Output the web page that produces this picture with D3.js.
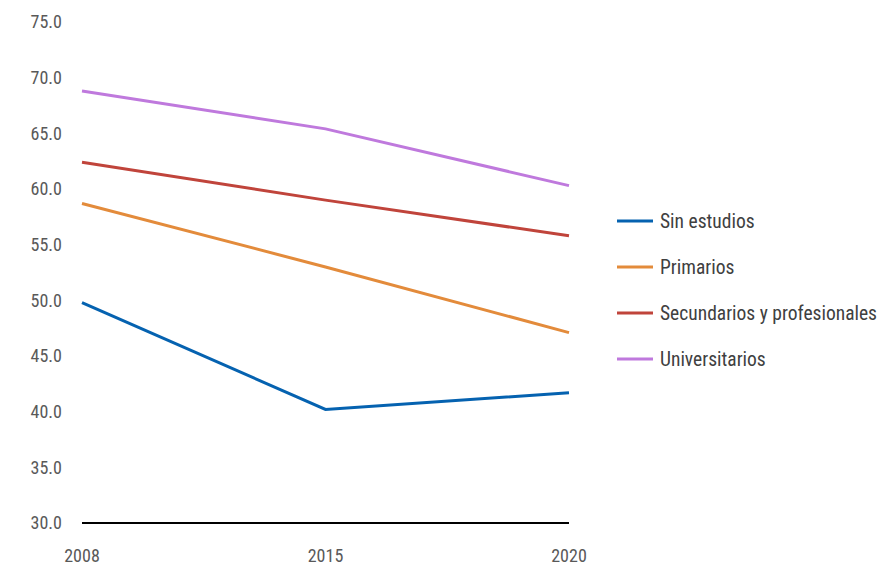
<!DOCTYPE html>
<html><head><meta charset="utf-8">
<script src="https://cdn.jsdelivr.net/npm/d3@7"></script>
<style>
body{margin:0;background:#fff;}
text{font-family:"Liberation Sans Narrow","Roboto Condensed","DejaVu Sans Condensed",sans-serif;}
</style></head><body>
<svg id="c" width="887" height="566"></svg>
<script>
const years = ["2008","2015","2020"];
const seriesNames = ["Sin estudios","Primarios","Secundarios y profesionales","Universitarios"];
const sinEstudios = [49.8, 40.2, 41.7];
const primarios = [58.7, 53.0, 47.1];
const secundarios = [62.4, 59.0, 55.8];
const universitarios = [68.8, 65.4, 60.3];
const yTicks = [30,35,40,45,50,55,60,65,70,75];
const colors = ["#0562b0","#e38b3b","#c0443b","#bf79dd"];

const series = [sinEstudios, primarios, secundarios, universitarios];
const svg = d3.select("#c");
const x = d3.scalePoint().domain(years).range([82, 569]);
const y = d3.scaleLinear().domain([30,75]).range([523, 22]);

svg.append("g").selectAll("text").data(yTicks).join("text")
  .attr("x", 62).attr("y", d=>y(d)).attr("dy","0.35em")
  .attr("text-anchor","end").attr("fill","#595959").attr("font-size",18)
  .text(d=>d.toFixed(1));
svg.append("g").selectAll("text").data(years).join("text")
  .attr("x", d=>x(d)).attr("y", 556).attr("dy","0.35em")
  .attr("text-anchor","middle").attr("fill","#595959").attr("font-size",18)
  .text(d=>d);
svg.append("line").attr("x1",x(years[0])).attr("x2",x(years[2]))
  .attr("y1",y(30)).attr("y2",y(30)).attr("stroke","#000").attr("stroke-width",2);

const line = d3.line().x((d,i)=>x(years[i])).y(d=>y(d));
series.forEach((s,i)=>{
  svg.append("path").datum(s).attr("d",line).attr("fill","none")
    .attr("stroke",colors[i]).attr("stroke-width",3);
});

const lg = svg.append("g").selectAll("g").data(seriesNames).join("g")
  .attr("transform",(d,i)=>`translate(617,${221+i*46})`);
lg.append("line").attr("x1",0).attr("x2",36).attr("y1",0).attr("y2",0)
  .attr("stroke",(d,i)=>colors[i]).attr("stroke-width",3);
lg.append("text").attr("x",43).attr("y",0).attr("dy","0.35em")
  .attr("fill","#404040").attr("font-size",19.5).text(d=>d);
</script></body></html>
